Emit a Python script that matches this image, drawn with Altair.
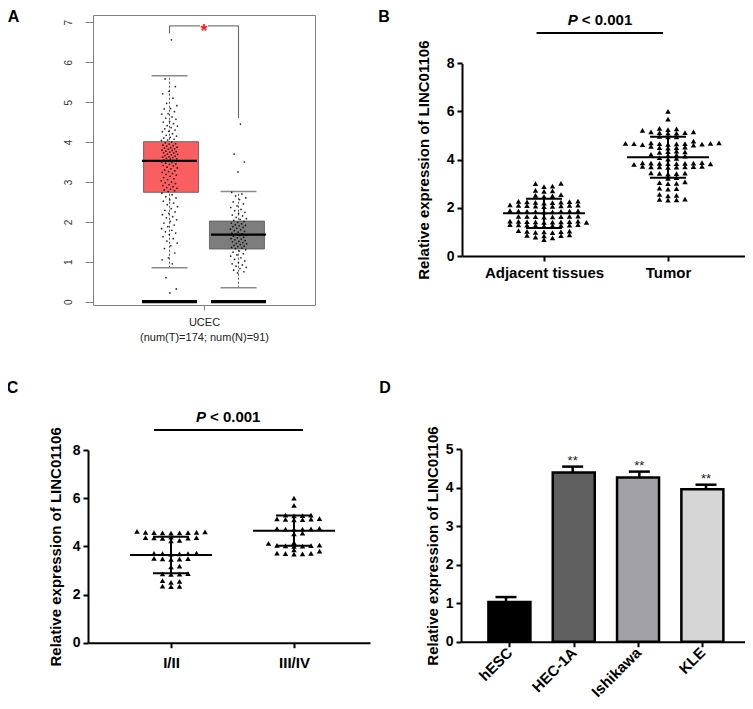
import json
import altair as alt
import pandas as pd

FONT = "Liberation Sans"
W, H = 737, 693

# ---------------- Panel A : GEPIA box plot (UCEC) ----------------
a_dataset = "UCEC"
a_groups = ["Tumor", "Normal"]
a_counts = [174, 91]
a_q1 = [2.74, 1.32]
a_med = [3.53, 1.68]
a_q3 = [4.01, 2.02]
a_lo = [0.85, 0.35]
a_hi = [5.66, 2.76]
a_zero = [0.0, 0.0]
a_fill = ["#F95F60", "#7d7d7d"]
a_bracket = [6.72, 6.91, 4.60]  # left foot, top, right foot
a_tumor_pts = [
    6.56, 5.58, 5.39, 5.27, 5.21, 5.10, 4.97, 4.91, 4.84, 4.83, 4.76, 4.71, 4.70, 4.63,
    4.60, 4.57, 4.52, 4.50, 4.46, 4.41, 4.40, 4.36, 4.33, 4.30, 4.27, 4.26, 4.21, 4.17,
    4.15, 4.12, 4.10, 4.07, 4.05, 4.04,
    4.00, 3.98, 3.96, 3.95, 3.92, 3.91, 3.90, 3.87, 3.86, 3.85, 3.83, 3.82, 3.80, 3.79,
    3.77, 3.76, 3.75, 3.73, 3.72, 3.70, 3.69, 3.68, 3.66, 3.65, 3.63, 3.62, 3.61, 3.59,
    3.58, 3.57, 3.55, 3.54,
    3.52, 3.50, 3.49, 3.47, 3.45, 3.44, 3.41, 3.40, 3.37, 3.35, 3.33, 3.30, 3.28, 3.26,
    3.24, 3.21, 3.19, 3.17, 3.14, 3.11, 3.08, 3.06, 3.03, 3.00, 2.98, 2.96, 2.93, 2.91,
    2.88, 2.86, 2.84, 2.82, 2.80, 2.78, 2.76,
    2.72, 2.68, 2.63, 2.60, 2.55, 2.52, 2.47, 2.43, 2.38, 2.33, 2.29, 2.25, 2.21, 2.18,
    2.13, 2.10, 2.05, 2.01, 1.97, 1.92, 1.88, 1.83, 1.79, 1.75, 1.72, 1.68, 1.63, 1.58,
    1.52, 1.47, 1.40, 1.33, 1.22, 1.10, 1.05, 0.95, 0.60, 0.32, 0.22,
]
a_normal_pts = [
    4.45, 3.70, 3.50, 3.25,
    2.74, 2.70, 2.65, 2.60, 2.56, 2.50, 2.45, 2.40, 2.36, 2.31, 2.28, 2.24, 2.21, 2.17,
    2.15, 2.11, 2.08, 2.06, 2.04,
    2.01, 1.99, 1.97, 1.95, 1.93, 1.91, 1.90, 1.88, 1.86, 1.84, 1.82, 1.80, 1.78, 1.76,
    1.74, 1.72, 1.70, 1.69, 1.67, 1.66, 1.64, 1.62, 1.60, 1.58, 1.57, 1.55, 1.53, 1.51,
    1.50, 1.48, 1.46, 1.45, 1.43, 1.41, 1.39, 1.38, 1.36, 1.34, 1.33,
    1.30, 1.27, 1.24, 1.20, 1.17, 1.14, 1.10, 1.06, 1.02, 0.98, 0.95, 0.92, 0.89, 0.86,
    0.83, 0.79, 0.75, 0.72,
]

# ---------------- Panel B : tissues ----------------
b_groups = ["Adjacent tissues", "Tumor"]
b_adjacent = [
    3.02, 3.00, 2.90, 2.88, 2.72, 2.70, 2.68, 2.55, 2.50, 2.52, 2.48,
    2.28, 2.25, 2.22, 2.27, 2.24, 2.26, 2.23, 2.20,
    2.10, 2.08, 2.12, 2.05, 2.10, 2.07, 2.09, 2.11, 2.06,
    1.88, 1.85, 1.86, 1.84, 1.87, 1.83, 1.86, 1.85, 1.82,
    1.65, 1.63, 1.62, 1.66, 1.64, 1.61, 1.63, 1.65,
    1.45, 1.42, 1.43, 1.40, 1.44, 1.41, 1.42, 1.43, 1.45, 1.40,
    1.30, 1.28, 1.27, 1.25, 1.29, 1.26, 1.30, 1.28, 1.27,
    1.05, 1.02, 1.00, 1.03, 0.98, 1.01, 0.97,
    0.88, 0.85, 0.86, 0.84, 0.78, 0.75, 0.68,
]
b_tumor = [
    6.00, 5.68, 5.30, 5.28, 5.25, 5.22, 5.15, 5.12, 5.10, 5.10, 5.15, 5.12,
    4.95, 4.95, 4.97, 4.77,
    4.70, 4.68, 4.66, 4.65, 4.70, 4.62, 4.64, 4.66, 4.68, 4.60, 4.63, 4.67,
    4.50, 4.52, 4.55, 4.50, 4.48, 4.33, 4.35, 4.30, 4.32,
    4.20, 4.18, 4.22, 4.15, 4.05, 4.02, 4.08,
    3.87, 3.85, 3.83, 3.86, 3.84, 3.82, 3.88, 3.85, 3.80, 3.86,
    3.72, 3.70, 3.68, 3.72, 3.70, 3.69, 3.71, 3.70,
    3.45, 3.42, 3.40, 3.44, 3.43, 3.25, 3.22,
    3.05, 3.02, 3.00, 3.08, 2.80, 2.82, 2.78, 2.56, 2.50, 2.52, 2.35, 2.33, 2.32, 2.36,
]
b_mean = [1.77, 4.10]
b_sd = [0.61, 0.85]

# ---------------- Panel C : stage ----------------
c_groups = ["I/II", "III/IV"]
c_early = [
    4.62, 4.60, 4.58, 4.57, 4.56, 4.55, 4.58, 4.57, 4.56,
    4.38, 4.36, 4.35, 4.34, 4.36, 4.33, 4.25, 4.23,
    3.72, 3.70, 3.68, 3.71, 3.69, 3.70,
    3.50, 3.48, 3.47, 3.49, 3.46, 3.18, 3.15,
    2.87, 2.85, 2.86, 2.84, 2.58, 2.55, 2.50, 2.35, 2.33, 2.34,
]
c_late = [
    6.00, 5.70, 5.30, 5.28, 5.27, 5.30, 5.15, 5.12, 5.10, 5.13, 5.11, 5.14,
    4.75, 4.72, 4.70, 4.73, 4.71, 4.74, 4.55, 4.52, 4.15, 4.12,
    4.05, 4.02, 4.00, 4.03, 4.01, 4.04, 3.85, 3.80,
    3.72, 3.70, 3.68, 3.71, 3.69,
]
c_mean = [3.64, 4.65]
c_sd = [0.76, 0.63]

# ---------------- Panel D : cell lines ----------------
d_lines = ["hESC", "HEC-1A", "Ishikawa", "KLE"]
d_mean = [1.03, 4.40, 4.27, 3.96]
d_err = [0.13, 0.15, 0.15, 0.12]
d_sig = ["", "**", "**", "**"]
d_fill = ["#000000", "#5f5f5f", "#a2a2a6", "#d6d6d6"]

YTITLE = "Relative expression of LINC01106"

# ---------------- scales (domain, pixel range) ----------------
XA = ([-0.1087, 3.1087], [85, 307])
YA = ([-0.083, 7.183], [297, 7])
XB = ([0.3387, 2.621], [454, 737])
YB = ([0, 8], [248, 55.3])
XC = ([0.325, 2.618], [80, 362])
YC = ([0, 8], [634.7, 442])
XD = ([0.325, 4.585], [453, 737])
YD = ([0, 5], [633.7, 441.3])


def sc(spec):
    return alt.Scale(domain=spec[0], range=spec[1], nice=False, zero=False)


def ppu(spec):
    return abs(spec[1][1] - spec[1][0]) / (spec[0][1] - spec[0][0])


def X(f, s, axis=None):
    return alt.X(f, type="quantitative", scale=sc(s), axis=axis)


def Y(f, s, axis=None):
    return alt.Y(f, type="quantitative", scale=sc(s), axis=axis)


def spread(n, half):
    # deterministic horizontal spread used only to draw jittered dots
    return [(((k + 1) * 0.6180339887) % 1.0 - 0.5) * 2 * half for k in range(n)]


def swarm(vals, px_x, px_y, step=8.5, gap=3.4):
    order = sorted(range(len(vals)), key=lambda i: vals[i])
    placed, offs = [], [0.0] * len(vals)
    for i in order:
        y = vals[i] * px_y
        x = 0.0
        for k in range(200):
            m = ((k + 1) // 2) * (1 if k % 2 else -1)
            x = m * step / 2
            if all(not (abs(px - x) < step and abs(py - y) < gap) for px, py in placed):
                break
        placed.append((x, y))
        offs[i] = x / px_x
    return offs


FRAME = "#808080"
layers = []

# ---------------- Panel A layers ----------------
a_pos = [i + 1 for i in range(len(a_groups))]
dfA = pd.DataFrame({"pos": a_pos, "group": a_groups, "q1": a_q1, "med": a_med, "q3": a_q3,
                    "lo": a_lo, "hi": a_hi, "zero": a_zero})
axA_top = alt.Axis(orient="top", offset=-7, ticks=False, labels=False, domainColor=FRAME,
                   domainWidth=1, title=None, grid=False)
axA_right = alt.Axis(orient="right", offset=-430, ticks=False, labels=False, domainColor=FRAME,
                     domainWidth=1, title=None, grid=False)
axA_left = alt.Axis(orient="left", offset=-85, values=list(range(8)), tickSize=8, tickColor=FRAME,
                    tickWidth=1, domainColor=FRAME, domainWidth=1, labelAngle=270,
                    labelAlign="center", labelBaseline="middle", labelFontSize=10,
                    labelColor="#333333", labelPadding=17, labelFlush=False, labelOverlap=False,
                    title=None, grid=False)
mid_a = sum(a_pos) / len(a_pos)
axA_bottom = alt.Axis(orient="bottom", offset=-396, values=[mid_a], labelExpr=json.dumps(a_dataset),
                      tickSize=5, tickColor=FRAME, tickWidth=1, domainColor=FRAME, domainWidth=1,
                      labelFontSize=11, labelColor="#222222", labelPadding=6, labelFlush=False,
                      title=f"(num(T)={a_counts[0]}; num(N)={a_counts[1]})", titleFontSize=11,
                      titleFontWeight="normal", titleColor="#222222", titleY=26,
                      titleBaseline="top", grid=False)

layers.append(alt.Chart(dfA).mark_rule(strokeDash=[2, 2], color="#444444", strokeWidth=0.9).encode(
    x=X("pos", XA, axA_top), y=Y("lo", YA, axA_right), y2="hi"))
for f in ["hi", "lo"]:
    layers.append(alt.Chart(dfA).mark_tick(orient="horizontal", size=36, thickness=1.4,
                                           color="#8a8a8a", opacity=1).encode(
        x=X("pos", XA), y=Y(f, YA)))
layers.append(alt.Chart(dfA).mark_bar(orient="vertical", size=55, stroke="#555555",
                                      strokeWidth=0.8).encode(
    x=X("pos", XA, axA_bottom), y=Y("q1", YA, axA_left), y2="q3",
    color=alt.Color("group:N", scale=alt.Scale(domain=a_groups, range=a_fill), legend=None)))
layers.append(alt.Chart(dfA).mark_tick(orient="horizontal", size=55, thickness=2.2,
                                       color="black", opacity=1).encode(
    x=X("pos", XA), y=Y("med", YA)))
layers.append(alt.Chart(dfA).mark_tick(orient="horizontal", size=55, thickness=3.2,
                                       color="black", opacity=1).encode(
    x=X("pos", XA), y=Y("zero", YA)))
pts = []
for p, vals in zip(a_pos, [a_tumor_pts, a_normal_pts]):
    for v, o in zip(vals, spread(len(vals), 0.12)):
        pts.append({"x": p + o, "v": v})
layers.append(alt.Chart(pd.DataFrame(pts)).mark_circle(size=3, color="black", opacity=0.85).encode(
    x=X("x", XA), y=Y("v", YA)))
gap = 0.058
dfBr = pd.DataFrame({
    "x": [a_pos[0], a_pos[0], mid_a + gap, a_pos[1]],
    "x2": [a_pos[0], mid_a - gap, a_pos[1], a_pos[1]],
    "y": [a_bracket[0], a_bracket[1], a_bracket[1], a_bracket[1]],
    "y2": [a_bracket[1], a_bracket[1], a_bracket[1], a_bracket[2]],
})
layers.append(alt.Chart(dfBr).mark_rule(color="#666666", strokeWidth=1.1).encode(
    x=X("x", XA), x2="x2", y=Y("y", YA), y2="y2"))
layers.append(alt.Chart(pd.DataFrame({"x": [mid_a], "y": [6.63], "t": ["*"]})).mark_text(
    color="#ff1a1a", fontSize=18, fontWeight="bold", baseline="alphabetic", font=FONT).encode(
    x=X("x", XA), y=Y("y", YA), text="t:N"))


def letter(txt, x, y, xs, ys):
    return alt.Chart(pd.DataFrame({"x": [x], "y": [y], "t": [txt]})).mark_text(
        fontSize=16, fontWeight="bold", baseline="middle", align="center", color="black",
        font=FONT).encode(x=X("x", xs), y=Y("y", ys), text="t:N")


layers.append(letter("A", -1.261, 7.133, XA, YA))


# ---------------- GraphPad style axes ----------------
def gp_left(offset, values, title_x):
    return alt.Axis(orient="left", offset=offset, values=values, tickSize=5, tickWidth=2,
                    tickColor="black", domainColor="black", domainWidth=2, labelFontSize=14,
                    labelFontWeight="bold", labelColor="black", labelPadding=3, labelFlush=False,
                    labelOverlap=False, title=YTITLE, titleFontSize=15, titleFontWeight="bold",
                    titleColor="black", titleX=title_x, titleBaseline="middle", grid=False)


def gp_bottom(offset, labels, pad, angle=0):
    kw = dict(labelAngle=315, labelAlign="right", labelBaseline="middle") if angle else \
        dict(labelAlign="center", labelBaseline="top")
    return alt.Axis(orient="bottom", offset=offset, values=[i + 1 for i in range(len(labels))],
                    labelExpr=json.dumps(labels) + "[round(datum.value) - 1]", tickSize=5,
                    tickWidth=2, tickColor="black", domainColor="black", domainWidth=2,
                    labelFontSize=15, labelFontWeight="bold", labelColor="black",
                    labelPadding=pad, labelFlush=False, labelOverlap=False, title=None,
                    grid=False, **kw)


def scatter_panel(groups, series, means, sds, xs, ys, yaxis, xaxis, pline, ptext, let):
    out = []
    pos = [i + 1 for i in range(len(groups))]
    rows = []
    for p, vals in zip(pos, series):
        for v, o in zip(vals, swarm(vals, ppu(xs), ppu(ys))):
            rows.append({"x": p + o, "v": v})
    out.append(alt.Chart(pd.DataFrame(rows)).mark_point(
        shape="triangle-up", filled=True, size=30, color="black", opacity=1).encode(
        x=X("x", xs, xaxis), y=Y("v", ys, yaxis)))
    dfs = pd.DataFrame({"pos": pos, "mean": means,
                        "lo": [m - s for m, s in zip(means, sds)],
                        "hi": [m + s for m, s in zip(means, sds)]})
    out.append(alt.Chart(dfs).mark_rule(strokeWidth=2, color="black").encode(
        x=X("pos", xs), y=Y("lo", ys), y2="hi"))
    for f in ["lo", "hi"]:
        out.append(alt.Chart(dfs).mark_tick(orient="horizontal", size=36, thickness=2,
                                            color="black", opacity=1).encode(
            x=X("pos", xs), y=Y(f, ys)))
    out.append(alt.Chart(dfs).mark_tick(orient="horizontal", size=82, thickness=2,
                                        color="black", opacity=1).encode(
        x=X("pos", xs), y=Y("mean", ys)))
    out.append(alt.Chart(pd.DataFrame({"x": [pline[0]], "x2": [pline[1]], "y": [pline[2]]})).mark_rule(
        strokeWidth=2, color="black").encode(x=X("x", xs), x2="x2", y=Y("y", ys)))
    dft = pd.DataFrame({"x": [ptext[0]], "y": [ptext[1]], "p": ["P"], "r": ["< 0.001"]})
    out.append(alt.Chart(dft).mark_text(fontSize=15, fontWeight="bold", fontStyle="italic",
                                        align="right", baseline="middle", dx=-22, color="black",
                                        font=FONT).encode(
        x=X("x", xs), y=Y("y", ys), text="p:N"))
    out.append(alt.Chart(dft).mark_text(fontSize=15, fontWeight="bold", align="left",
                                        baseline="middle", dx=-18, color="black", font=FONT).encode(
        x=X("x", xs), y=Y("y", ys), text="r:N"))
    out.append(letter(let[0], let[1], let[2], xs, ys))
    return out


layers += scatter_panel(b_groups, [b_adjacent, b_tumor], b_mean, b_sd, XB, YB,
                        gp_left(-454, [0, 2, 4, 6, 8], -39), gp_bottom(-445, b_groups, 4),
                        (0.94, 1.96, 9.26), (1.45, 9.8), ("B", -0.29, 9.92))
layers += scatter_panel(c_groups, [c_early, c_late], c_mean, c_sd, XC, YC,
                        gp_left(-80, [0, 2, 4, 6, 8], -33), gp_bottom(-58.3, c_groups, 8),
                        (0.862, 2.073, 8.83), (1.463, 9.37), ("C", -0.289, 10.57))

# ---------------- Panel D layers ----------------
d_pos = [i + 1 for i in range(len(d_lines))]
dfD = pd.DataFrame({"pos": d_pos, "name": d_lines, "val": d_mean, "base": [0.0] * len(d_lines),
                    "top": [m + e for m, e in zip(d_mean, d_err)], "sig": d_sig})
layers.append(alt.Chart(dfD).mark_bar(orient="vertical", size=42, stroke="black",
                                      strokeWidth=2.5).encode(
    x=X("pos", XD, gp_bottom(-59.3, d_lines, 3, angle=1)),
    y=Y("val", YD, gp_left(-453, [0, 1, 2, 3, 4, 5], -29)), y2="base",
    color=alt.Color("name:N", scale=alt.Scale(domain=d_lines, range=d_fill), legend=None)))
layers.append(alt.Chart(dfD).mark_rule(strokeWidth=2.5, color="black").encode(
    x=X("pos", XD), y=Y("val", YD), y2="top"))
layers.append(alt.Chart(dfD).mark_tick(orient="horizontal", size=21, thickness=2.5,
                                       color="black", opacity=1).encode(
    x=X("pos", XD), y=Y("top", YD)))
layers.append(alt.Chart(dfD).mark_text(fontSize=13, baseline="alphabetic", dy=-2,
                                       color="#222222", font=FONT).encode(
    x=X("pos", XD), y=Y("top", YD), text="sig:N"))
layers.append(letter("D", -0.815, 6.59, XD, YD))

chart = alt.layer(*layers).resolve_scale(
    x="independent", y="independent", color="independent"
).resolve_axis(
    x="independent", y="independent"
).properties(
    width=W, height=H, autosize=alt.AutoSizeParams(type="none"), padding=0
).configure_view(stroke=None).configure_axis(grid=False, labelFont=FONT, titleFont=FONT)

chart.save("out.html", embed_options={"renderer": "svg", "actions": False})
